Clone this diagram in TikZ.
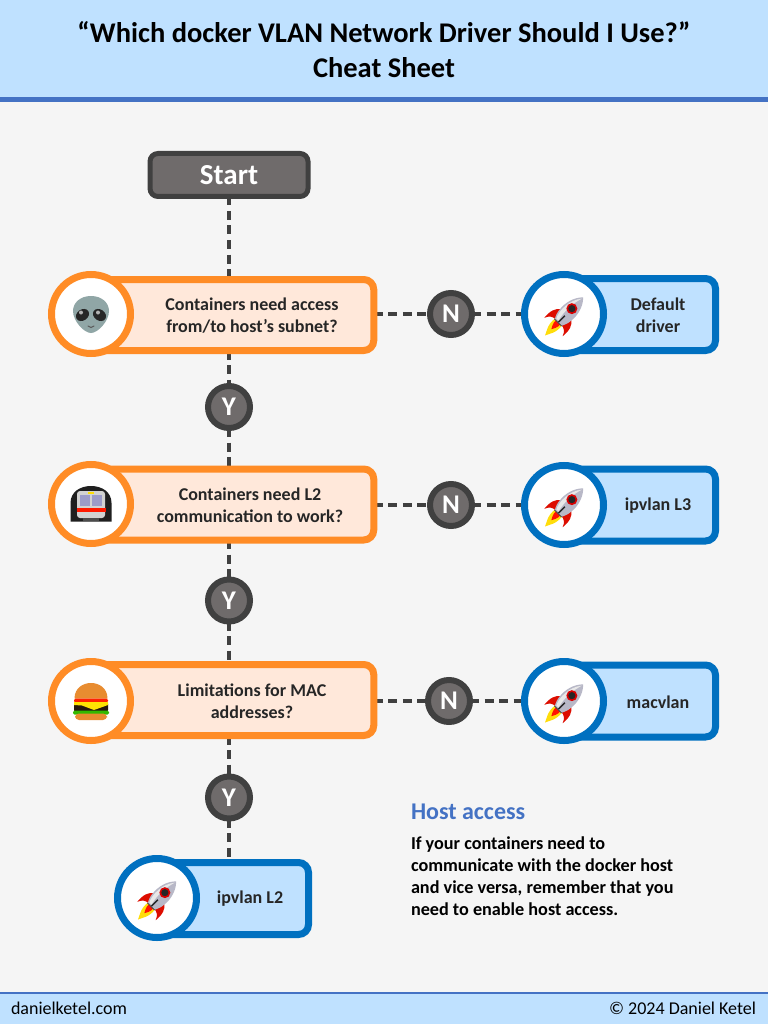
\documentclass[tikz,border=0pt]{standalone}
\usepackage{fontspec}
\setmainfont{Carlito}
\usetikzlibrary{backgrounds}
\definecolor{hdr}{HTML}{BFE1FF}
\definecolor{rulec}{HTML}{4472C4}
\definecolor{pagebg}{HTML}{F5F5F5}
\definecolor{darkc}{HTML}{404040}
\definecolor{midc}{HTML}{6F6B6B}
\definecolor{orangec}{HTML}{FF8C26}
\definecolor{orangef}{HTML}{FFE8DA}
\definecolor{bluec}{HTML}{0070C0}
\definecolor{inkc}{HTML}{262626}
\tikzset{
  base/.style={inner sep=0pt,outer sep=0pt},
  startbox/.style={base,draw=darkc,fill=midc,line width=5pt,rounded corners=8pt,minimum width=158pt,minimum height=43pt,text=white,font=\bfseries\fontsize{29}{30}\selectfont},
  qbox/.style={base,draw=orangec,fill=orangef,line width=7pt,rounded corners=10pt,minimum width=282.5pt,minimum height=71pt},
  abox/.style={base,draw=bluec,fill=hdr,line width=7pt,rounded corners=10pt,minimum width=151pt,minimum height=72pt},
  qcirc/.style={base,circle,draw=orangec,fill=white,line width=7pt,minimum size=79pt},
  acirc/.style={base,circle,draw=bluec,fill=white,line width=7pt,minimum size=79pt},
  badge/.style={base,circle,draw=darkc,fill=midc,line width=6pt,minimum size=42pt,text=white,font=\bfseries\fontsize{27}{30}\selectfont},
  lbl/.style={base,align=center,text=inkc,font=\bfseries\fontsize{18}{22}\selectfont},
  link/.style={draw=darkc,line width=3.5pt,dash pattern=on 9pt off 5.5pt},
  rocket/.pic={
    \begin{scope}[shift={(1.5,1)},y=1pt,rotate=-45]
      \fill[orangec!30!yellow] (-5,-10) .. controls (-6,-20) and (-2,-24) .. (0,-29) .. controls (2,-24) and (6,-20) .. (5,-10) -- cycle;
      \fill[red!85!orange] (-3,-10) .. controls (-3.5,-15) and (-1,-18) .. (0,-20) .. controls (1,-18) and (3.5,-15) .. (3,-10) -- cycle;
      \fill[red!85!black!90!orange] (-7,1) .. controls (-12,-2) and (-14,-8) .. (-13,-17) .. controls (-11,-12) and (-8,-10) .. (-4,-10) -- cycle;
      \fill[red!85!black!90!orange] (7,1) .. controls (12,-2) and (14,-8) .. (13,-17) .. controls (11,-12) and (8,-10) .. (4,-10) -- cycle;
      \fill[black!70] (-5,-9) rectangle (5,-11);
      \fill[blue!12!gray!50] (0,25) .. controls (7,18) and (9,8) .. (8,0) .. controls (8,-4) and (6,-8) .. (5,-10) -- (-5,-10) .. controls (-6,-8) and (-8,-4) .. (-8,0) .. controls (-9,8) and (-7,18) .. (0,25) -- cycle;
      \fill[white!70!gray!60] (-1,-9) .. controls (-4,2) and (-3,14) .. (0,23) .. controls (-8,14) and (-8,-2) .. (-4,-9) -- cycle;
      \fill[red!85!black] (0,9) circle (5.5pt);
      \fill[black!85] (0,9) circle (3.6pt);
      \fill[black!85] (-0.7,-10) rectangle (0.7,-1);
    \end{scope}
  },
  alien/.pic={
    \fill[gray!75!teal!70!white] (0,-18) .. controls (11,-18) and (18,-11) .. (18,-3) .. controls (18,7) and (7,19) .. (0,19) .. controls (-7,19) and (-18,7) .. (-18,-3) .. controls (-18,-11) and (-11,-18) .. (0,-18) -- cycle;
    \fill[black!85,rotate around={35:(-8.5,1)}] (-8.5,1) ellipse (7pt and 5.5pt);
    \fill[black!85,rotate around={-35:(8.5,1)}] (8.5,1) ellipse (7pt and 5.5pt);
    \fill[gray!60] (-10,-1.5) circle (2pt);
    \fill[gray!60] (7,-1.5) circle (2pt);
    \draw[black!65,line width=1pt,line cap=round] (-3,12) .. controls (-1,14) and (1,14) .. (3,12);
  },
  train/.pic={
    \fill[black!88] (-20.5,17.5) -- (-20.5,-1) .. controls (-20.5,-12) and (-11,-18) .. (0,-18) .. controls (11,-18) and (20.5,-12) .. (20.5,-1) -- (20.5,17.5) -- cycle;
    \fill[gray!35,rounded corners=3pt] (-14,-13) rectangle (14,14);
    \fill[blue!30!gray!60] (-11,-9) rectangle (-1,2);
    \fill[blue!30!gray!60] (1,-9) rectangle (11,2);
    \fill[red!80!orange] (-14.5,4) rectangle (14.5,8);
    \fill[black!70] (-8,14) rectangle (8,17);
    \fill[yellow!80!orange] (-3,-12) rectangle (3,-10.5);
  },
  burger/.pic={
    \fill[orange!60!brown!90!white] (-16.5,-2.5) .. controls (-16.5,-13) and (-8,-18) .. (0,-18) .. controls (8,-18) and (16.5,-13) .. (16.5,-2.5) -- cycle;
    \fill[red!75!orange,rounded corners=1.5pt] (-17,-2.5) rectangle (17,1.5);
    \fill[black!80!brown,rounded corners=2pt] (-17,1) rectangle (17,11);
    \fill[yellow!85!orange] (-17,1) -- (17,1) -- (17,4) -- (3,9) -- (-9,4.5) -- (-17,4) -- cycle;
    \fill[green!65!black!80!yellow,rounded corners=1.5pt] (-18,9.5) rectangle (18,13.5);
    \fill[orange!60!brown!90!white,rounded corners=4pt] (-16,12.5) rectangle (16,19);
  }
}
\begin{document}
\begin{tikzpicture}[x=1pt,y=-1pt]
\useasboundingbox (0,0) rectangle (768,1024);
\begin{pgfonlayer}{background}
  \fill[pagebg] (0,0) rectangle (768,1024);
  \fill[hdr] (0,0) rectangle (768,97);
  \fill[rulec] (0,97) rectangle (768,102);
  \fill[hdr] (0,993) rectangle (768,1024);
  \fill[rulec] (0,992) rectangle (768,994);
\end{pgfonlayer}

\node[base,align=center,text=black,font=\bfseries\fontsize{28.5}{35}\selectfont] (title) at (384,49.5) {“Which docker VLAN Network Driver Should I Use?”\\Cheat Sheet};

\node[startbox] (start) at (229,175) {Start};

% decision boxes
\node[qbox] (q1) at (232.5,315) {};
\node[qbox] (q2) at (232.5,504.5) {};
\node[qbox] (q3) at (232.5,700) {};
\node[qcirc] (qc1) at (91,314) {};
\node[qcirc] (qc2) at (91,504) {};
\node[qcirc] (qc3) at (91,701) {};
\node[lbl] (qt1) at (252,315.5) {Containers need access\\from/to host’s subnet?};
\node[lbl] (qt2) at (250,505) {Containers need L2\\communication to work?};
\node[lbl] (qt3) at (252,701) {Limitations for MAC\\addresses?};
\pic at (qc1) {alien};
\pic at (qc2) {train};
\pic at (qc3) {burger};

% answer boxes
\node[abox] (a1) at (640,314.5) {};
\node[abox] (a2) at (640,505) {};
\node[abox] (a3) at (640,701) {};
\node[abox] (a4) at (233,898.5) {};
\node[acirc] (ac1) at (564,314) {};
\node[acirc] (ac2) at (564,505) {};
\node[acirc] (ac3) at (564,701) {};
\node[acirc] (ac4) at (157,898) {};
\node[lbl] (at1) at (658,315) {Default\\driver};
\node[lbl] (at2) at (658,506) {ipvlan L3};
\node[lbl] (at3) at (658,702) {macvlan};
\node[lbl] (at4) at (250,899) {ipvlan L2};
\pic at (ac1) {rocket};
\pic at (ac2) {rocket};
\pic at (ac3) {rocket};
\pic at (ac4) {rocket};

% badges
\node[badge] (n1) at (451,314) {N};
\node[badge] (n2) at (451,505) {N};
\node[badge] (n3) at (449,701) {N};
\node[badge] (y1) at (229,407) {Y};
\node[badge] (y2) at (229,600.5) {Y};
\node[badge] (y3) at (229,797.5) {Y};

\begin{pgfonlayer}{background}
  \draw[link] (start.south) -- (q1.north -| start);
  \draw[link] (q1.south -| y1) -- (y1);
  \draw[link] (y1) -- (q2.north -| y1);
  \draw[link] (q2.south -| y2) -- (y2);
  \draw[link] (y2) -- (q3.north -| y2);
  \draw[link] (q3.south -| y3) -- (y3);
  \draw[link] (y3) -- (a4.north -| y3);
  \draw[link] (q1.east |- n1) -- (n1);
  \draw[link] (n1) -- (ac1);
  \draw[link] (q2.east |- n2) -- (n2);
  \draw[link] (n2) -- (ac2);
  \draw[link] (q3.east |- n3) -- (n3);
  \draw[link] (n3) -- (ac3);
\end{pgfonlayer}

% host access note
\node[base,anchor=west,text=rulec,font=\bfseries\fontsize{24}{26}\selectfont] (hah) at (411,812) {Host access};
\node[base,anchor=north west,align=left,text=black,font=\bfseries\fontsize{18.2}{22}\selectfont] (hab) at (411,836.5) {If your containers need to\\communicate with the docker host\\and vice versa, remember that you\\need to enable host access.};

% footer
\node[base,anchor=west,text=black,font=\fontsize{18}{20}\selectfont] (fl) at (11,1008) {danielketel.com};
\node[base,anchor=east,text=black,font=\fontsize{18}{20}\selectfont] (fr) at (756,1008) {© 2024 Daniel Ketel};
\end{tikzpicture}
\end{document}
